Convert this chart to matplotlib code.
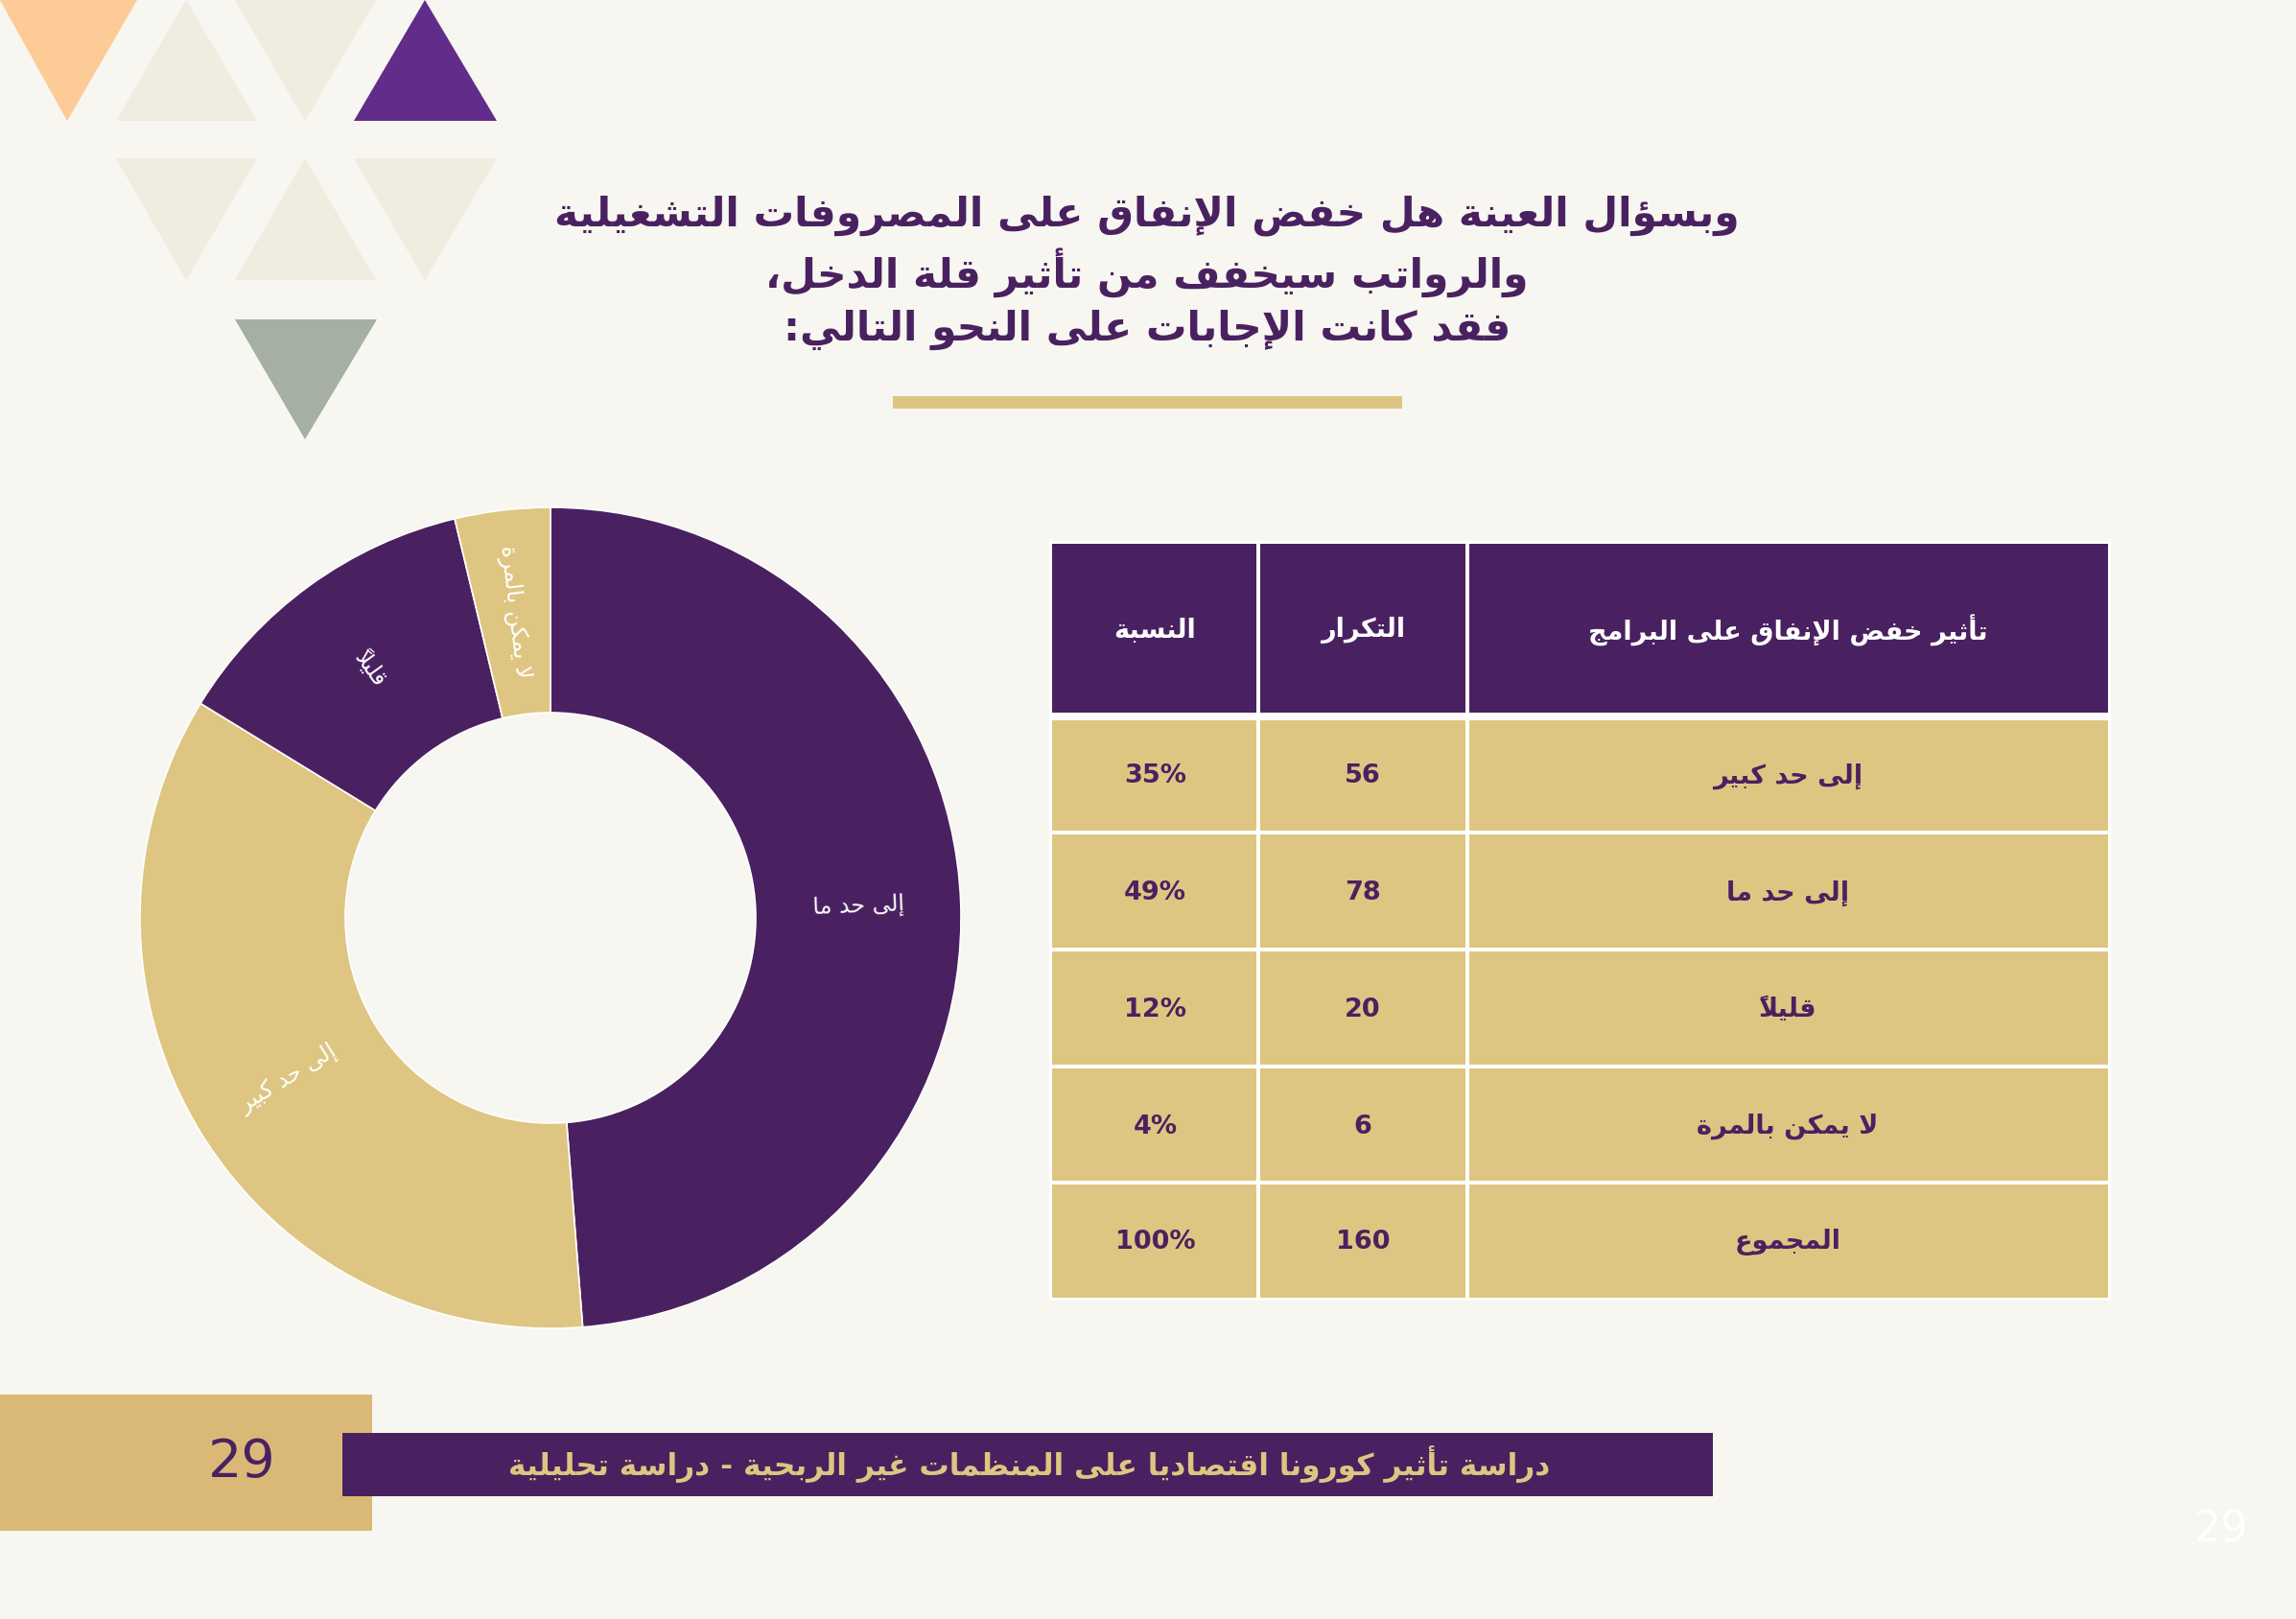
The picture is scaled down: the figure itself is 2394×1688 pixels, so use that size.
import numpy as np
import matplotlib
matplotlib.use('Agg')
import matplotlib.pyplot as plt
from matplotlib.patches import Polygon, Rectangle

W, H = 2394, 1688
BG = '#F7F6F0'
PURPLE = '#4A2160'
GOLD = '#DEC682'
FOOT_GOLD = '#DAB977'

# data
categories = ['إلى حد كبير', 'إلى حد ما', 'قليلاً', 'لا يمكن بالمرة']
counts = [56, 78, 20, 6]
percents = ['35%', '49%', '12%', '4%']
total_label = 'المجموع'
total_count = 160
total_pct = '100%'
headers = ['النسبة', 'التكرار', 'تأثير خفض الإنفاق على البرامج']
pie_order = [1, 0, 2, 3]
pie_colors = [PURPLE, GOLD, PURPLE, GOLD]
title_lines = ['وبسؤال العينة هل خفض الإنفاق على المصروفات التشغيلية',
               'والرواتب سيخفف من تأثير قلة الدخل،',
               'فقد كانت الإجابات على النحو التالي:']
footer_text = 'دراسة تأثير كورونا اقتصاديا على المنظمات غير الربحية - دراسة تحليلية'
page_no = '29'

# --- minimal arabic shaping (presentation forms + visual order) ---
FORMS = {
    'ء': ('\uFE80', None, None, None),
    'آ': ('\uFE81', '\uFE82', None, None),
    'أ': ('\uFE83', '\uFE84', None, None),
    'ؤ': ('\uFE85', '\uFE86', None, None),
    'إ': ('\uFE87', '\uFE88', None, None),
    'ئ': ('\uFE89', '\uFE8A', '\uFE8B', '\uFE8C'),
    'ا': ('\uFE8D', '\uFE8E', None, None),
    'ب': ('\uFE8F', '\uFE90', '\uFE91', '\uFE92'),
    'ة': ('\uFE93', '\uFE94', None, None),
    'ت': ('\uFE95', '\uFE96', '\uFE97', '\uFE98'),
    'ث': ('\uFE99', '\uFE9A', '\uFE9B', '\uFE9C'),
    'ج': ('\uFE9D', '\uFE9E', '\uFE9F', '\uFEA0'),
    'ح': ('\uFEA1', '\uFEA2', '\uFEA3', '\uFEA4'),
    'خ': ('\uFEA5', '\uFEA6', '\uFEA7', '\uFEA8'),
    'د': ('\uFEA9', '\uFEAA', None, None),
    'ذ': ('\uFEAB', '\uFEAC', None, None),
    'ر': ('\uFEAD', '\uFEAE', None, None),
    'ز': ('\uFEAF', '\uFEB0', None, None),
    'س': ('\uFEB1', '\uFEB2', '\uFEB3', '\uFEB4'),
    'ش': ('\uFEB5', '\uFEB6', '\uFEB7', '\uFEB8'),
    'ص': ('\uFEB9', '\uFEBA', '\uFEBB', '\uFEBC'),
    'ض': ('\uFEBD', '\uFEBE', '\uFEBF', '\uFEC0'),
    'ط': ('\uFEC1', '\uFEC2', '\uFEC3', '\uFEC4'),
    'ظ': ('\uFEC5', '\uFEC6', '\uFEC7', '\uFEC8'),
    'ع': ('\uFEC9', '\uFECA', '\uFECB', '\uFECC'),
    'غ': ('\uFECD', '\uFECE', '\uFECF', '\uFED0'),
    'ف': ('\uFED1', '\uFED2', '\uFED3', '\uFED4'),
    'ق': ('\uFED5', '\uFED6', '\uFED7', '\uFED8'),
    'ك': ('\uFED9', '\uFEDA', '\uFEDB', '\uFEDC'),
    'ل': ('\uFEDD', '\uFEDE', '\uFEDF', '\uFEE0'),
    'م': ('\uFEE1', '\uFEE2', '\uFEE3', '\uFEE4'),
    'ن': ('\uFEE5', '\uFEE6', '\uFEE7', '\uFEE8'),
    'ه': ('\uFEE9', '\uFEEA', '\uFEEB', '\uFEEC'),
    'و': ('\uFEED', '\uFEEE', None, None),
    'ى': ('\uFEEF', '\uFEF0', None, None),
    'ي': ('\uFEF1', '\uFEF2', '\uFEF3', '\uFEF4'),
}
LAM_ALEF = {'آ': ('\uFEF5', '\uFEF6'), 'أ': ('\uFEF7', '\uFEF8'),
            'إ': ('\uFEF9', '\uFEFA'), 'ا': ('\uFEFB', '\uFEFC')}
MARKS = set('\u064B\u064C\u064D\u064E\u064F\u0650\u0651\u0652')


def ar(text):
    units = []
    for ch in text:
        if ch in MARKS and units:
            units[-1][1] += ch
        else:
            units.append([ch, ''])
    merged = []
    i = 0
    while i < len(units):
        b, m = units[i]
        if b == 'ل' and i + 1 < len(units) and units[i + 1][0] in LAM_ALEF:
            merged.append([b + units[i + 1][0], m + units[i + 1][1]])
            i += 2
        else:
            merged.append([b, m])
            i += 1

    def dual(b):
        return b in FORMS and FORMS[b][2] is not None

    def joinable(b):
        return b in FORMS or (len(b) == 2 and b[0] == 'ل')

    out = []
    n = len(merged)
    for k, (b, m) in enumerate(merged):
        prev_j = k > 0 and dual(merged[k - 1][0]) and joinable(b)
        if len(b) == 2:
            g = LAM_ALEF[b[1]][1 if prev_j else 0]
        elif b in FORMS:
            f = FORMS[b]
            next_j = dual(b) and k + 1 < n and joinable(merged[k + 1][0])
            if prev_j and next_j:
                g = f[3]
            elif prev_j:
                g = f[1]
            elif next_j:
                g = f[2]
            else:
                g = f[0]
        else:
            g = b
        # mark glyph goes first so it lands on its base once reversed
        out.append(m + g)
    return ''.join(reversed(out))


plt.rcParams['font.family'] = ['DejaVu Sans']

fig = plt.figure(figsize=(W / 100, H / 100), dpi=100)
fig.patch.set_facecolor(BG)
ax = fig.add_axes([0, 0, 1, 1])
ax.set_xlim(0, W)
ax.set_ylim(H, 0)
ax.axis('off')

# decorative triangles
BEIGE = '#EFECE0'
tris = [
    ([(0, 0), (143, 0), (70, 126)], '#FDCB95'),
    ([(121, 126), (268, 126), (194, 0)], BEIGE),
    ([(245, 0), (392, 0), (318, 126)], BEIGE),
    ([(369, 126), (518, 126), (443, 0)], '#622C8A'),
    ([(121, 165), (268, 165), (194, 292)], BEIGE),
    ([(245, 292), (392, 292), (318, 165)], BEIGE),
    ([(369, 165), (518, 165), (443, 292)], BEIGE),
    ([(245, 333), (393, 333), (318, 458)], '#A5AFA3'),
]
for pts, c in tris:
    ax.add_patch(Polygon(pts, closed=True, facecolor=c, edgecolor='none'))

# title
for y, line in zip([225, 284, 344], title_lines):
    ax.text(1196, y, ar(line), ha='center', va='center', fontsize=30.5,
            fontweight='bold', color=PURPLE)
ax.add_patch(Rectangle((931, 413), 531, 13, facecolor=GOLD, edgecolor='none'))

# table
col_x = [1097, 1312, 1530, 2198]
row_y = [567, 747, 868, 990, 1112, 1233, 1353]
ax.add_patch(Rectangle((col_x[0] - 3, row_y[0] - 3), col_x[-1] - col_x[0] + 6,
                       row_y[-1] - row_y[0] + 6, facecolor='white', edgecolor='none'))
rows = [headers] + [[p, str(c), cat] for cat, c, p in zip(categories, counts, percents)]
rows.append([total_pct, str(total_count), total_label])
for r, cells in enumerate(rows):
    y0, y1 = row_y[r], row_y[r + 1]
    for ci, txt in enumerate(cells):
        x0, x1 = col_x[ci], col_x[ci + 1]
        g0 = 0 if ci == 0 else 2
        g1 = 0 if ci == 2 else 2
        t0 = 0 if r == 0 else (4 if r == 1 else 2)
        b0 = 4 if r == 0 else (0 if r == len(rows) - 1 else 2)
        ax.add_patch(Rectangle((x0 + g0, y0 + t0), x1 - x0 - g0 - g1, y1 - y0 - t0 - b0,
                               facecolor=PURPLE if r == 0 else GOLD, edgecolor='none'))
        s = ar(txt) if any('\u0600' <= ch <= '\u06FF' for ch in txt) else txt
        ax.text((x0 + x1) / 2, (y0 + y1) / 2 + (0 if r == 0 else 2), s,
                ha='center', va='center', fontsize=19.5, fontweight='bold',
                color='white' if r == 0 else PURPLE)

# footer
ax.add_patch(Rectangle((0, 1454), 388, 142, facecolor=FOOT_GOLD, edgecolor='none'))
ax.add_patch(Rectangle((357, 1494), 1429, 66, facecolor=PURPLE, edgecolor='none'))
ax.text(1073, 1527, ar(footer_text), ha='center', va='center', fontsize=22.5,
        fontweight='bold', color=GOLD)
ax.text(252, 1525, page_no, ha='center', va='center', fontsize=40, color=PURPLE)
ax.text(2316, 1595, page_no, ha='center', va='center', fontsize=32, color='white')

# donut
cx, cy, R = 574, 957, 428
pax = fig.add_axes([(cx - R) / W, (H - cy - R) / H, 2 * R / W, 2 * R / H])
vals = [counts[i] for i in pie_order]
labs = [categories[i] for i in pie_order]
wedges, _ = pax.pie(vals, startangle=90, counterclock=False, colors=pie_colors,
                    radius=1, wedgeprops=dict(width=0.5, edgecolor='white', linewidth=1.2))
pax.set_xlim(-1, 1)
pax.set_ylim(-1, 1)
pax.axis('off')
for w, lab in zip(wedges, labs):
    mid = (w.theta1 + w.theta2) / 2
    rot = (mid + 90) % 180 - 90
    a = np.deg2rad(mid)
    pax.text(0.75 * np.cos(a), 0.75 * np.sin(a), ar(lab), ha='center', va='center',
             rotation=rot, rotation_mode='anchor', fontsize=17, color='white')

fig.savefig('out.png', dpi=100, facecolor=BG)
